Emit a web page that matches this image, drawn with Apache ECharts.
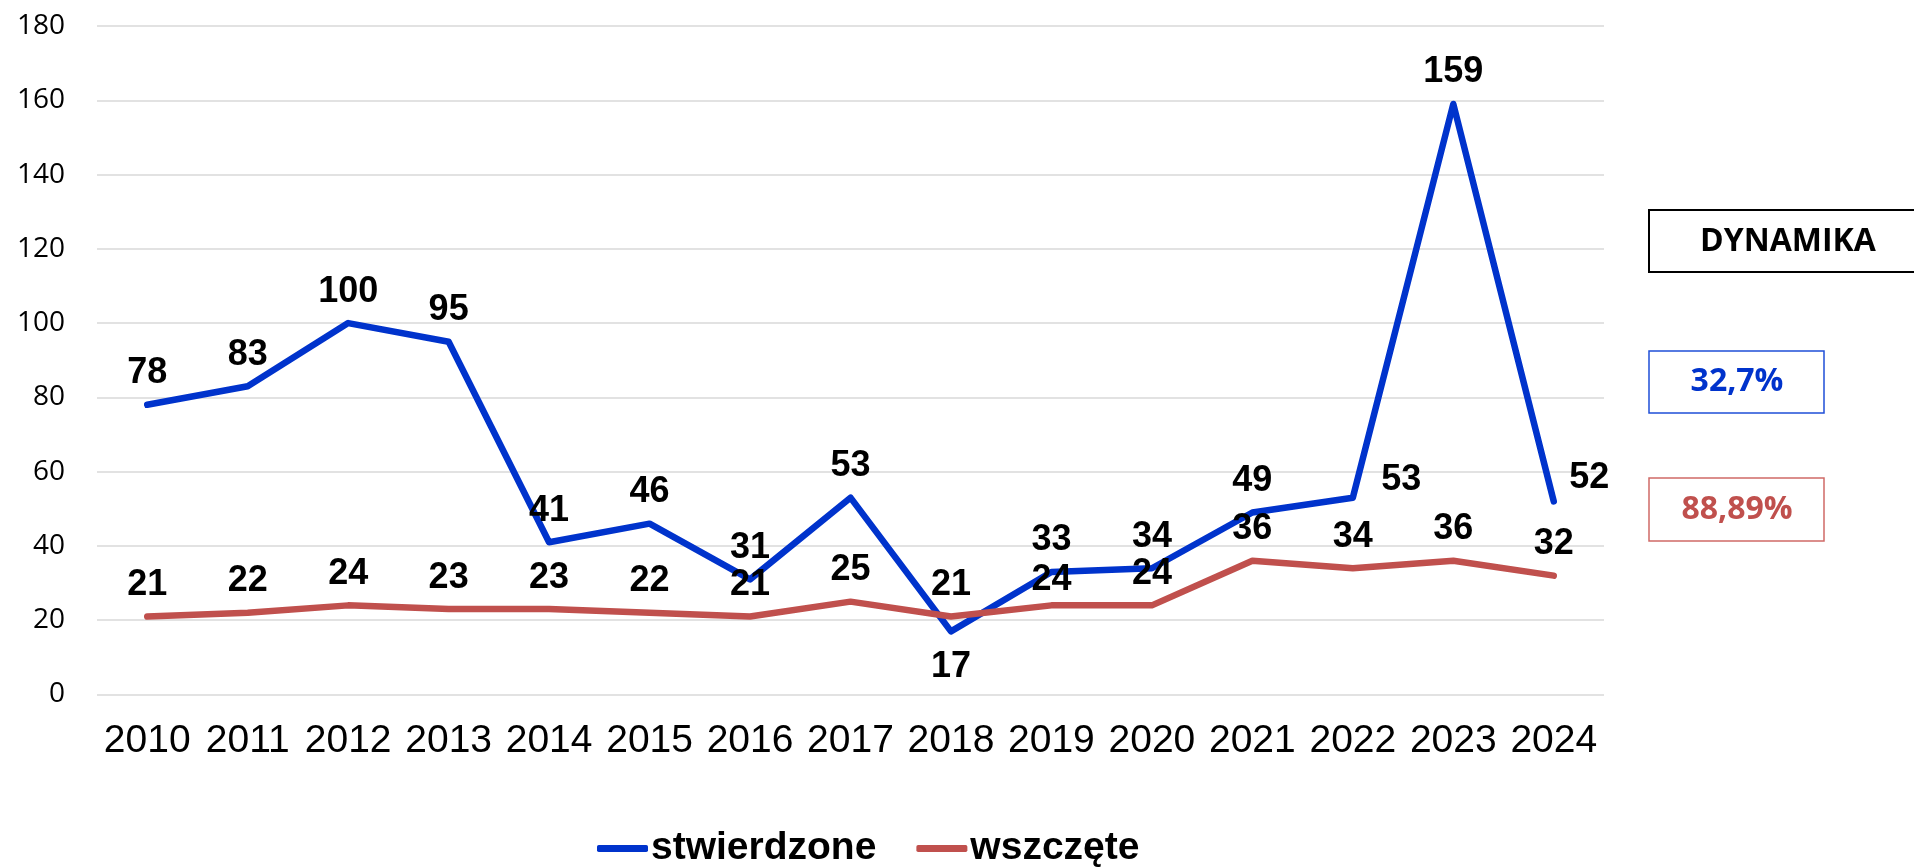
<!DOCTYPE html>
<html>
<head>
<meta charset="utf-8">
<script src="https://cdn.jsdelivr.net/npm/echarts@6/dist/echarts.min.js"></script>
<style>
  html, body { margin: 0; padding: 0; background: #fff; }
  #chart { width: 1914px; height: 867px; }
</style>
</head>
<body>
<div id="chart"></div>
<script>
var years = ['2010', '2011', '2012', '2013', '2014', '2015', '2016', '2017', '2018', '2019', '2020', '2021', '2022', '2023', '2024'];
var stwierdzone = [78, 83, 100, 95, 41, 46, 31, 53, 17, 33, 34, 49, 53, 159, 52];
var wszczete = [21, 22, 24, 23, 23, 22, 21, 25, 21, 24, 24, 36, 34, 36, 32];
var seriesNames = ['stwierdzone', 'wszczęte'];
var dynamikaTitle = 'DYNAMIKA';
var dynamika = ['32,7%', '88,89%'];

var BLUE = '#0033CC';
var RED = '#C0504D';

// labels that Excel placed somewhere other than above the point
var blueLabelFix = {
  8: { position: 'bottom', distance: 15 },
  12: { position: 'right', distance: 26, offset: [0, -18] },
  14: { position: 'right', distance: 13, offset: [0, -23] }
};
var redLabelFix = {
  9: { offset: [0, 6] }
};

function withLabels(values, fix) {
  return values.map(function(v, i) {
    if (fix[i]) {
      return { value: v, label: fix[i] };
    }
    return v;
  });
}

var labelStyle = {
  show: true,
  position: 'top',
  distance: 11,
  color: '#000',
  fontFamily: 'Liberation Sans, Arial, sans-serif',
  fontWeight: 'bold',
  fontSize: 36
};

var chart = echarts.init(document.getElementById('chart'));
chart.setOption({
  animation: false,
  grid: { left: 97, right: 310, top: 26, bottom: 172.5 },
  legend: {
    left: 597,
    top: 829,
    padding: 0,
    itemWidth: 51,
    itemHeight: 7,
    itemGap: 40,
    icon: 'roundRect',
    textStyle: {
      color: '#000',
      fontFamily: 'Liberation Sans, Arial, sans-serif',
      fontWeight: 'bold',
      fontSize: 39,
      padding: [0, 0, 0, -2]
    },
    data: [
      { name: seriesNames[0], itemStyle: { color: BLUE } },
      { name: seriesNames[1], itemStyle: { color: RED } }
    ]
  },
  xAxis: {
    type: 'category',
    data: years,
    axisLine: { show: false },
    axisTick: { show: false },
    axisLabel: {
      interval: 0,
      margin: 27,
      color: '#000',
      fontFamily: 'Liberation Sans, Arial, sans-serif',
      fontSize: 39
    }
  },
  yAxis: {
    type: 'value',
    min: 0,
    max: 180,
    interval: 20,
    axisLine: { show: false },
    axisTick: { show: false },
    axisLabel: {
      margin: 32,
      color: '#000',
      fontFamily: 'Open Sans, sans-serif',
      fontSize: 28
    },
    splitLine: { lineStyle: { color: '#d9d9d9', width: 1.5 } }
  },
  series: [{
    name: seriesNames[0],
    type: 'line',
    data: withLabels(stwierdzone, blueLabelFix),
    symbol: 'circle',
    symbolSize: 5,
    showSymbol: true,
    itemStyle: { color: BLUE },
    lineStyle: { width: 6.5, color: BLUE, cap: 'round', join: 'round' },
    label: labelStyle
  }, {
    name: seriesNames[1],
    type: 'line',
    data: withLabels(wszczete, redLabelFix),
    symbol: 'circle',
    symbolSize: 5,
    showSymbol: true,
    itemStyle: { color: RED },
    lineStyle: { width: 6.5, color: RED, cap: 'round', join: 'round' },
    label: labelStyle
  }],
  graphic: [
    {
      type: 'rect',
      shape: { x: 1649, y: 210, width: 280, height: 62 },
      style: { fill: '#fff', stroke: '#000', lineWidth: 2 }
    },
    {
      type: 'text',
      style: {
        text: dynamikaTitle, x: 1788, y: 242, align: 'center', verticalAlign: 'middle',
        fill: '#000', font: 'bold 32px "Open Sans", sans-serif'
      }
    },
    {
      type: 'rect',
      shape: { x: 1649, y: 351, width: 175, height: 62 },
      style: { fill: '#fff', stroke: '#1f4fd8', lineWidth: 1.5 }
    },
    {
      type: 'text',
      style: {
        text: dynamika[0], x: 1737, y: 382, align: 'center', verticalAlign: 'middle',
        fill: BLUE, font: 'bold 32px "Open Sans", sans-serif'
      }
    },
    {
      type: 'rect',
      shape: { x: 1649, y: 478, width: 175, height: 63 },
      style: { fill: '#fff', stroke: '#d06a67', lineWidth: 1.5 }
    },
    {
      type: 'text',
      style: {
        text: dynamika[1], x: 1737, y: 510, align: 'center', verticalAlign: 'middle',
        fill: RED, font: 'bold 32px "Open Sans", sans-serif'
      }
    }
  ]
});
</script>
</body>
</html>
